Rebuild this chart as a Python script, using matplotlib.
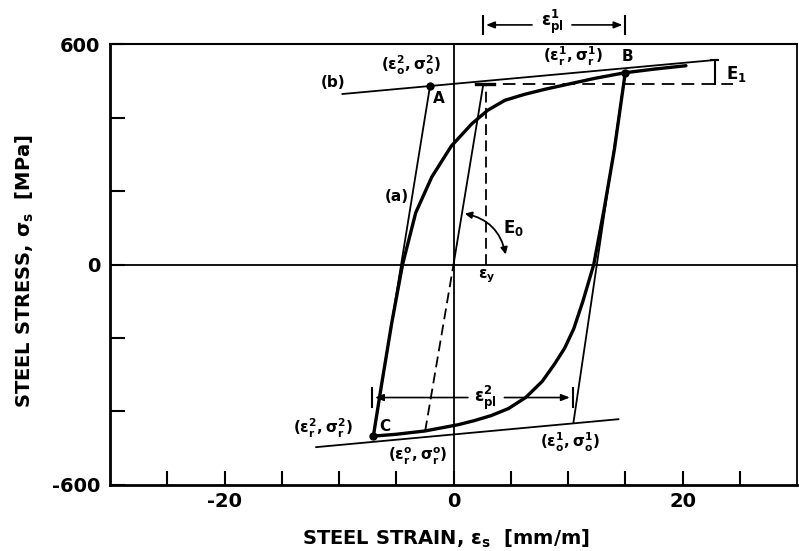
import matplotlib
matplotlib.use("Agg")
import matplotlib.pyplot as plt
from matplotlib.patches import FancyArrowPatch

plt.rcParams["font.family"] = "DejaVu Sans"
plt.rcParams["mathtext.fontset"] = "dejavusans"
plt.rcParams["mathtext.default"] = "bf"

# strain in mm/m, stress in MPa
EPS_Y = 2.6
F_Y = 490

# hardening asymptote (b) and the lower asymptote after reversal
line_b_strain = [-9.7, 23.0]
line_b_stress = [464, 557]
lower_strain = [-12.0, 14.4]
lower_stress = [-497, -421]

# transition curve (a): reloading from C towards asymptote (b)
curve_a_strain = [-7.0, -6.3, -5.4, -4.45, -3.3, -1.9, -0.2, 1.6, 3.0, 4.5,
                  6.2, 8.0, 10.2, 12.4, 15.0, 17.6, 20.3]
curve_a_stress = [-467, -330, -160, 0, 141, 238, 322, 383, 420, 447,
                  463, 477, 492, 507, 522, 532, 541]

# unloading curve from reversal point B down to C
curve_bc_strain = [15.0, 14.05, 13.15, 12.25, 11.3, 10.5, 9.7, 8.8, 7.75, 6.3,
                   4.8, 3.3, 1.8, 0.4, -2.5, -5.0, -7.0]
curve_bc_stress = [522, 313, 150, 0, -100, -175, -228, -272, -318, -362,
                   -392, -411, -425, -436, -453, -462, -467]

point_a = (-2.05, 486)
point_b = (15.0, 522)
point_c = (-7.0, -467)
point_o1 = (10.47, -431)
point_r0 = (-2.48, -454)

x_ticks = [-25, -20, -15, -10, -5, 0, 5, 10, 15, 20, 25]
x_tick_labels = ["", "-20", "", "", "", "0", "", "", "", "20", ""]
y_ticks = [-600, -400, -200, 0, 200, 400, 600]
y_tick_labels = ["-600", "", "", "0", "", "", "600"]

PL1_LEVEL = 652
PL2_LEVEL = -362

fig = plt.figure(figsize=(7.99, 5.51), dpi=100)
ax = fig.add_axes([0.1377, 0.1198, 0.8598, 0.8003])
ax.set_xlim(-30, 30)
ax.set_ylim(-600, 600)

for side, lw in [("left", 2.0), ("bottom", 2.0), ("top", 1.5), ("right", 1.3)]:
    ax.spines[side].set_linewidth(lw)

ax.set_xticks(x_ticks)
ax.set_xticklabels(x_tick_labels)
ax.set_yticks(y_ticks)
ax.set_yticklabels(y_tick_labels)
ax.tick_params(axis="both", direction="in", width=1.5, labelsize=14)
ax.tick_params(axis="y", length=11, pad=7)
ax.tick_params(axis="x", length=10, pad=5)
for lab in ax.get_xticklabels() + ax.get_yticklabels():
    lab.set_fontweight("bold")

ax.axhline(0, color="black", lw=1.3)
ax.axvline(0, color="black", lw=1.3)

thin = dict(color="black", lw=1.3)
thick = dict(color="black", lw=2.4, solid_capstyle="round")

# asymptotes
ax.plot(line_b_strain, line_b_stress, **thin)
ax.plot(lower_strain, lower_stress, **thin)

# elastic lines with slope E0
ax.plot([0, EPS_Y], [0, F_Y], **thin)
ax.plot([point_r0[0], 0], [point_r0[1], 0], color="black", lw=1.3, ls=(0, (6, 3)))
ax.plot([point_c[0], point_a[0]], [point_c[1], point_a[1]], **thin)
ax.plot([point_b[0], point_o1[0]], [point_b[1], point_o1[1]], **thin)

# yield level and yield strain
ax.plot([EPS_Y, 24.4], [F_Y, F_Y], color="black", lw=1.3, ls=(0, (7, 4)))
ax.plot([EPS_Y - 0.6, EPS_Y + 0.9], [F_Y, F_Y], color="black", lw=2.4)
ax.plot([EPS_Y + 0.2, EPS_Y + 0.2], [0, F_Y], color="black", lw=1.3, ls=(0, (6, 3)))

# transition curves
ax.plot(curve_a_strain, curve_a_stress, **thick)
ax.plot(curve_bc_strain, curve_bc_stress, **thick)

# reversal / origin points
for px, py in [point_a, point_b, point_c]:
    ax.plot(px, py, "o", color="black", ms=5)

# E1 bracket
e1_x = 22.8
e1_top = line_b_stress[0] + (line_b_stress[1] - line_b_stress[0]) * (e1_x - line_b_strain[0]) / (line_b_strain[1] - line_b_strain[0])
ax.plot([e1_x, e1_x], [F_Y, e1_top], color="black", lw=1.5)
ax.plot([e1_x - 0.3, e1_x + 0.3], [e1_top, e1_top], color="black", lw=1.5)
ax.text(24.7, 519, r"E$_1$", fontsize=12, fontweight="bold", ha="center", va="center")

# E0 arc
arc = FancyArrowPatch((0.75, 140), (4.6, 20), connectionstyle="arc3,rad=-0.35",
                      arrowstyle="<|-|>,head_length=4,head_width=2",
                      color="black", lw=1.3)
ax.add_patch(arc)
ax.text(5.2, 98, r"E$_0$", fontsize=12, fontweight="bold", ha="center", va="center")

# plastic strain dimension lines
arrow_kw = dict(arrowstyle="-|>,head_length=0.5,head_width=0.2", color="black", lw=1.2)
ax.annotate("", xy=(EPS_Y, PL1_LEVEL), xytext=(7.1, PL1_LEVEL),
            arrowprops=arrow_kw, annotation_clip=False)
ax.annotate("", xy=(point_b[0], PL1_LEVEL), xytext=(10.1, PL1_LEVEL),
            arrowprops=arrow_kw, annotation_clip=False)
for xb in [EPS_Y, point_b[0]]:
    ax.plot([xb, xb], [PL1_LEVEL - 25, PL1_LEVEL + 25], color="black", lw=1.5, clip_on=False)
ax.text(8.6, PL1_LEVEL + 8, r"$\epsilon_{pl}^{1}$", fontsize=12, ha="center", va="center")

ax.annotate("", xy=(-7.1, PL2_LEVEL), xytext=(1.5, PL2_LEVEL), arrowprops=arrow_kw)
ax.annotate("", xy=(10.4, PL2_LEVEL), xytext=(4.2, PL2_LEVEL), arrowprops=arrow_kw)
for xb in [-7.1, 10.4]:
    ax.plot([xb, xb], [PL2_LEVEL - 25, PL2_LEVEL + 25], color="black", lw=1.5)
ax.text(2.8, PL2_LEVEL - 2, r"$\epsilon_{pl}^{2}$", fontsize=12, ha="center", va="center")

# point labels
lab_kw = dict(fontsize=11, ha="center", va="center")
ax.text(-10.5, 495, "(b)", fontsize=11, fontweight="bold", ha="center", va="center")
ax.text(-4.95, 186, "(a)", fontsize=11, fontweight="bold", ha="center", va="center")
ax.text(-1.28, 453, "A", fontsize=11, fontweight="bold", ha="center", va="center")
ax.text(15.2, 566, "B", fontsize=11, fontweight="bold", ha="center", va="center")
ax.text(-5.96, -440, "C", fontsize=11, fontweight="bold", ha="center", va="center")
ax.text(-3.76, 542, r"$(\epsilon_o^2,\sigma_o^2)$", **lab_kw)
ax.text(10.4, 566, r"$(\epsilon_r^1,\sigma_r^1)$", **lab_kw)
ax.text(-11.4, -445, r"$(\epsilon_r^2,\sigma_r^2)$", **lab_kw)
ax.text(-3.1, -521, r"$(\epsilon_r^o,\sigma_r^o)$", **lab_kw)
ax.text(10.2, -483, r"$(\epsilon_o^1,\sigma_o^1)$", **lab_kw)
ax.text(2.86, -32, r"$\epsilon_y$", fontsize=11, ha="center", va="center")

fig.text(446 / 799, 0.022, r"STEEL STRAIN, $\epsilon_s$  [mm/m]",
         fontsize=14, fontweight="bold", ha="center", va="center")
fig.text(25 / 799, 1 - 271 / 551, r"STEEL STRESS, $\sigma_s$  [MPa]",
         fontsize=14, fontweight="bold", ha="center", va="center", rotation=90)

fig.savefig("out.png", dpi=100)
